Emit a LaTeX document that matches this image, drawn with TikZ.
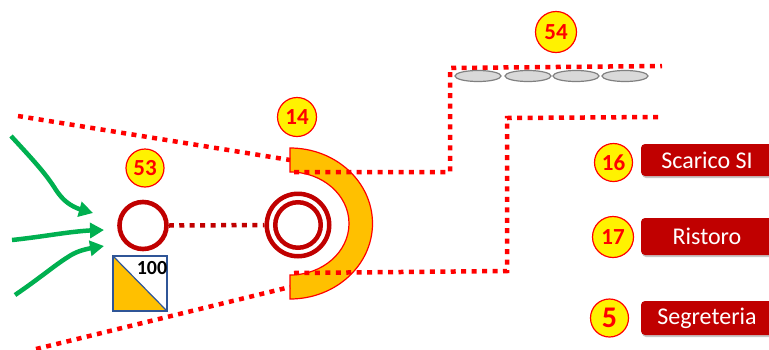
\documentclass[tikz,border=0pt]{standalone}
\usepackage{fontspec}
\setmainfont{Carlito}
\usetikzlibrary{arrows.meta,shadows,bending,shapes.geometric}
\definecolor{dkred}{HTML}{C00000}
\definecolor{orng}{HTML}{FFC000}
\definecolor{grn}{HTML}{00B050}
\definecolor{ptred}{HTML}{FF0000}
\definecolor{boxblue}{HTML}{2F5597}
\tikzset{
  badge/.style={circle,draw=ptred,line width=1.2pt,fill=yellow,inner sep=0pt,text=ptred,font=\bfseries\fontsize{23}{23}\selectfont},
  dotline/.style={draw=ptred,line width=4.5pt,dash pattern=on 5pt off 5.45pt},
  dkdot/.style={draw=dkred,line width=4.5pt,dash pattern=on 5pt off 5.45pt},
  flow/.style={draw=grn,line width=4.5pt,-{Triangle[length=14pt,width=15pt,flex]}},
  ringa/.style={circle,draw=dkred,inner sep=0pt},
  redbox/.style={draw=none,fill=dkred,rounded corners=4pt,text=white,inner sep=0pt,font=\fontsize{24}{24}\selectfont,
    drop shadow={shadow xshift=1pt,shadow yshift=-2pt,opacity=.45}},
  seat/.style={ellipse,draw=black!50,fill=black!15,line width=1.2pt,minimum width=46pt,minimum height=11pt,inner sep=0pt},
}
\begin{document}
\begin{tikzpicture}[x=1pt,y=-1pt]
\useasboundingbox (0,0) rectangle (769,349);
\clip (0,0) rectangle (769,349);
% half ring
\fill[orng,draw=ptred,line width=1.2pt] (290,148) arc[start angle=-90,end angle=90,x radius=82.5,y radius=75.5]
  -- (290,275) arc[start angle=90,end angle=-90,x radius=59,y radius=51.5] -- cycle;
% coordinates
\coordinate (ulA) at (18,116);
\coordinate (ulB) at (290,160);
\coordinate (uA) at (294,172);
\coordinate (uB) at (450,172);
\coordinate (uC) at (450,68);
\coordinate (uD) at (662,66);
\coordinate (llA) at (36,349);
\coordinate (llB) at (290,287);
\coordinate (lA) at (294,273);
\coordinate (lB) at (507,271);
\coordinate (lC) at (507,118);
\coordinate (lD) at (660,117);
\draw[dotline] (ulA) -- (ulB);
\draw[dotline] (llA) -- (llB);
\draw[dotline] (uA) -- (uB) -- (uC) -- (uD);
\draw[dotline] (lA) -- (lB) -- (lC) -- (lD);
% rings
\node[ringa,line width=4.6pt,minimum size=47pt] (r53) at (143,225.5) {};
\node[ringa,line width=4.5pt,minimum size=62.5pt] (r14o) at (298,225) {};
\node[ringa,line width=4.5pt,minimum size=45.5pt] (r14i) at (298,225) {};
\draw[dkdot] (r53.east) -- (r14o.west);
% arrows
\coordinate (g1a) at (11,136);
\coordinate (g1b) at (93,213);
\coordinate (g2a) at (12,240);
\coordinate (g2b) at (104,230);
\coordinate (g3a) at (15,295);
\coordinate (g3b) at (104,246);
\draw[flow] (g1a) .. controls (35,162) and (46,174) .. (56,190) .. controls (66,205) and (76,209) .. (g1b);
\draw[flow] (g2a) .. controls (50,236) and (75,230) .. (g2b);
\draw[flow] (g3a) .. controls (40,278) and (55,265) .. (68,257) .. controls (78,250) and (90,248) .. (g3b);
% square
\fill[orng] (113,256) -- (167,311) -- (113,311) -- cycle;
\draw[boxblue,line width=1.2pt] (113,256) rectangle (167,311);
\draw[boxblue,line width=1.2pt] (113,256) -- (167,311);
\node[font=\fontsize{20}{20}\selectfont\bfseries,inner sep=0pt,text=black] (cap) at (152,268) {100};
% seats
\node[seat] (s1) at (478,76) {};
\node[seat] (s2) at (528,76) {};
\node[seat] (s3) at (576,76) {};
\node[seat] (s4) at (625,76) {};
% boxes
\node[redbox,minimum width=132pt,minimum height=32pt] (b1) at (707,160) {Scarico SI};
\node[redbox,minimum width=132pt,minimum height=37pt] (b2) at (707,236.5) {Ristoro};
\node[redbox,minimum width=132pt,minimum height=34pt] (b3) at (707,318) {Segreteria};
% badges
\node[badge,minimum size=38pt] (n53) at (145,168) {53};
\node[badge,minimum size=39pt] (n14) at (297,117) {14};
\node[badge,minimum size=41pt] (n54) at (556,32) {54};
\node[badge,minimum size=38pt] (n16) at (613.5,162.5) {16};
\node[badge,minimum size=41pt] (n17) at (613,237) {17};
\node[badge,minimum size=38pt,font=\bfseries\fontsize{30}{30}\selectfont] (n5) at (609.5,318) {5};
\end{tikzpicture}
\end{document}
